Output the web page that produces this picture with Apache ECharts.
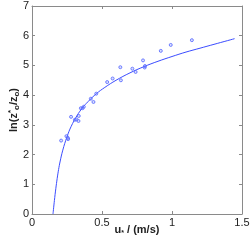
<!DOCTYPE html>
<html><head><meta charset="utf-8">
<script src="https://cdn.jsdelivr.net/npm/echarts@6/dist/echarts.min.js"></script>
<style>html,body{margin:0;padding:0;background:#fff}#c{width:251px;height:242px}</style>
</head><body><div id="c"></div>
<script>
// Observed data points (u*, ln(z0*/z0))
const obsU = [0.208,0.246,0.256,0.258,0.279,0.306,0.318,0.332,0.334,0.349,0.361,0.370,0.420,0.439,0.459,0.537,0.576,0.631,0.635,0.717,0.740,0.793,0.805,0.807,0.920,0.991,1.142];
const obsY = [2.47,2.62,2.56,2.52,3.27,3.17,3.18,3.13,3.30,3.56,3.56,3.61,3.88,3.77,4.05,4.44,4.56,4.94,4.50,4.89,4.78,5.17,4.93,4.98,5.49,5.69,5.85];
// Fitted curve
const fitU = [0.150,0.160,0.170,0.180,0.190,0.200,0.220,0.250,0.280,0.320,0.360,0.400,0.460,0.520,0.600,0.700,0.800,0.900,1.000,1.100,1.200,1.300,1.447];
const fitY = [0,0.45,0.85,1.2,1.5,1.75,2.15,2.6,2.95,3.3,3.57,3.78,4.05,4.26,4.5,4.75,4.96,5.14,5.3,5.45,5.58,5.71,5.9];
const xTicks = [0,0.5,1,1.5];
const yTicks = [0,1,2,3,4,5,6,7];

const font = 'Liberation Sans, Arial, Helvetica, sans-serif';
const frame = '#8a8a8a';
const blue = '#3b4cff';
const chart = echarts.init(document.getElementById('c'));
const baseAxis = () => ({
  axisLine:{show:true,onZero:false,lineStyle:{color:frame,width:1}},
  axisTick:{show:true,inside:true,length:3,lineStyle:{color:frame}},
  splitLine:{show:false}
});
chart.setOption({
  animation:false,
  grid:{left:32,right:9,top:6,bottom:28,containLabel:false,outerBoundsMode:'none'},
  xAxis:[
    Object.assign(baseAxis(),{type:'value',position:'bottom',min:0,max:1.5,interval:0.5,
      axisLabel:{color:'#222',fontSize:11,fontFamily:font,margin:3,formatter:v=>String(v)},
      name:'{b|u}{s|*}{b| / (m/s)}',nameLocation:'middle',nameGap:9,nameMoveOverlap:false,
      nameTextStyle:{fontFamily:font,rich:{
        b:{fontSize:11,fontWeight:'bold',color:'#222',fontFamily:font,lineHeight:14},
        s:{fontSize:7,fontWeight:'bold',color:'#222',fontFamily:font,lineHeight:14,padding:[6,0,0,0]}
      }}}),
    Object.assign(baseAxis(),{type:'value',position:'top',min:0,max:1.5,interval:0.5,axisLabel:{show:false}})
  ],
  yAxis:[
    Object.assign(baseAxis(),{type:'value',position:'left',min:0,max:7,interval:1,
      axisLabel:{color:'#222',fontSize:11,fontFamily:font,margin:3},
      name:'{b|ln(z}{p|*}{s|o}{b|/z}{s|o}{b|)}',nameLocation:'middle',nameGap:11,nameMoveOverlap:false,
      nameTextStyle:{fontFamily:font,rich:{
        b:{fontSize:11,fontWeight:'bold',color:'#222',fontFamily:font,lineHeight:14},
        s:{fontSize:8,fontWeight:'bold',color:'#222',fontFamily:font,lineHeight:14,padding:[6,0,0,0]},
        p:{fontSize:8,fontWeight:'bold',color:'#222',fontFamily:font,lineHeight:14,padding:[0,0,6,0]}
      }}}),
    Object.assign(baseAxis(),{type:'value',position:'right',min:0,max:7,interval:1,axisLabel:{show:false}})
  ],
  series:[
    {type:'line',data:fitU.map((u,i)=>[u,fitY[i]]),smooth:0.4,showSymbol:false,
     lineStyle:{color:blue,width:1},xAxisIndex:0,yAxisIndex:0,z:2},
    {type:'scatter',data:obsU.map((u,i)=>[u,obsY[i]]),symbol:'circle',symbolSize:3,
     itemStyle:{color:'rgba(120,135,255,0.35)',borderColor:'#5566ff',borderWidth:1},xAxisIndex:0,yAxisIndex:0,z:3}
  ]
});
</script></body></html>
